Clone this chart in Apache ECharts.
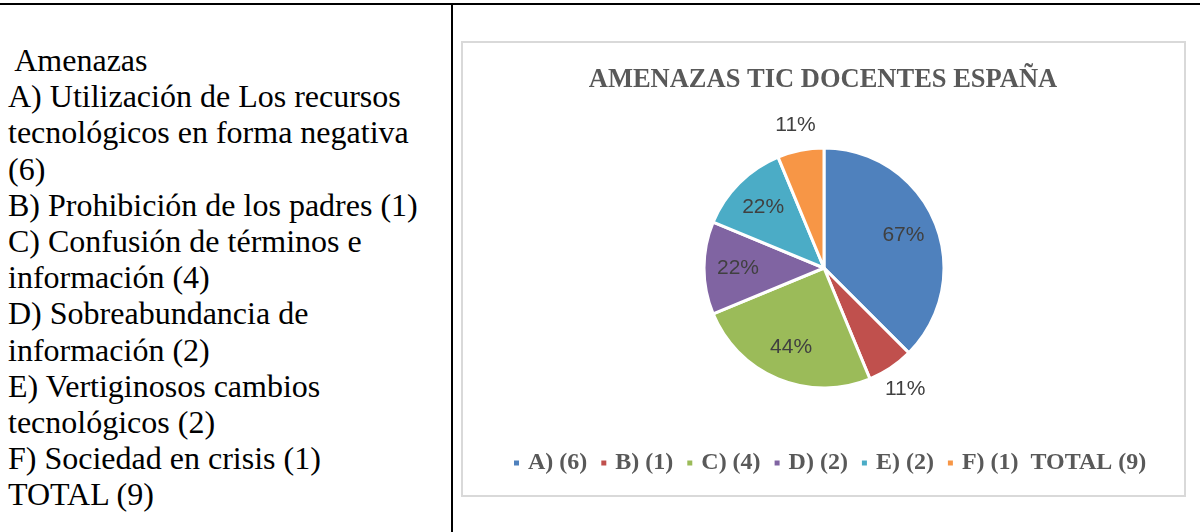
<!DOCTYPE html>
<html>
<head>
<meta charset="utf-8">
<script src="https://cdn.jsdelivr.net/npm/echarts@6/dist/echarts.min.js"></script>
<style>
html,body{margin:0;padding:0;background:#fff;}
body{width:1200px;height:532px;position:relative;overflow:hidden;}
#topLine{position:absolute;left:0;top:3px;width:1200px;height:2px;background:#000;}
#midLine{position:absolute;left:451px;top:3px;width:2px;height:529px;background:#000;}
#txt{position:absolute;left:8px;top:42px;font-family:"Liberation Serif","Times New Roman",serif;font-size:32px;line-height:36.2px;color:#000;white-space:pre;}
#main{position:absolute;left:461px;top:41px;width:725px;height:456px;border:2px solid #d9d9d9;box-sizing:border-box;}
</style>
</head>
<body>
<div id="topLine"></div>
<div id="midLine"></div>
<div id="txt"> Amenazas
A) Utilización de Los recursos
tecnológicos en forma negativa
(6)
B) Prohibición de los padres (1)
C) Confusión de términos e
información (4)
D) Sobreabundancia de
información (2)
E) Vertiginosos cambios
tecnológicos (2)
F) Sociedad en crisis (1)
TOTAL (9)</div>
<div id="main"></div>

<script type="text/javascript">
	// datos del grafico
	var categorias = ["A) (6)","B) (1)","C) (4)","D) (2)","E) (2)","F) (1)  TOTAL (9)"];
	var valores = [6,1,4,2,2,1];
	var total = 9;
	var colores = ["#4F81BD","#C0504D","#9BBB59","#8064A2","#4BACC6","#F79646"];
	// etiquetas dentro / fuera del sector
	var etiquetaFuera = [false,true,false,false,false,true];

	var fuenteSerif = '"Liberation Serif","Times New Roman",serif';

	var myChart = echarts.init(document.getElementById("main"));

	function pct(p){
		return Math.round(p.value/total*100)+'%';
	}

	var datos = [], datosDentro = [], datosFuera = [];
	categorias.forEach(function(el,index){
		datos.push({name:el,value:valores[index],itemStyle:{color:colores[index]}});
		datosDentro.push({name:el,value:valores[index],label:{show:!etiquetaFuera[index]}});
		datosFuera.push({name:el,value:valores[index],label:{show:etiquetaFuera[index]}});
	});

	var etiqueta = {
		position:'inside',
		formatter:pct,
		fontFamily:'"Liberation Sans", Arial, sans-serif',
		fontSize:21,
		color:'#404040'
	};
	var transparente = {color:'rgba(0,0,0,0)',borderWidth:0};

	var option = {
		animation:false,
		title:{
			text:'AMENAZAS TIC DOCENTES ESPAÑA',
			left:355,
			textAlign:'center',
			top:19,
			textStyle:{
				fontFamily:fuenteSerif,
				fontWeight:'bold',
				fontSize:26.5,
				color:'#595959'
			}
		},
		legend:{
			data:categorias,
			top:403,
			left:44,
			icon:'rect',
			itemWidth:7,
			itemHeight:7,
			itemGap:12,
			textStyle:{
				fontFamily:fuenteSerif,
				fontWeight:'bold',
				fontSize:24,
				color:'#595959',
				padding:[0,0,0,3]
			}
		},
		series:[
			{
				name:'Amenazas',
				type:'pie',
				center:[361,225],
				radius:[0,120],
				startAngle:90,
				label:{show:false},
				labelLine:{show:false},
				itemStyle:{borderColor:'#fff',borderWidth:3},
				emphasis:{disabled:true},
				data:datos
			},
			{
				type:'pie',
				center:[361,225],
				radius:[66,100],
				startAngle:90,
				silent:true,
				label:etiqueta,
				labelLine:{show:false},
				itemStyle:transparente,
				emphasis:{disabled:true},
				data:datosDentro
			},
			{
				type:'pie',
				center:[361,225],
				radius:[130,156],
				startAngle:90,
				silent:true,
				label:etiqueta,
				labelLine:{show:false},
				itemStyle:transparente,
				emphasis:{disabled:true},
				data:datosFuera
			}
		]
	};

	myChart.setOption(option);
</script>
</body>
</html>
